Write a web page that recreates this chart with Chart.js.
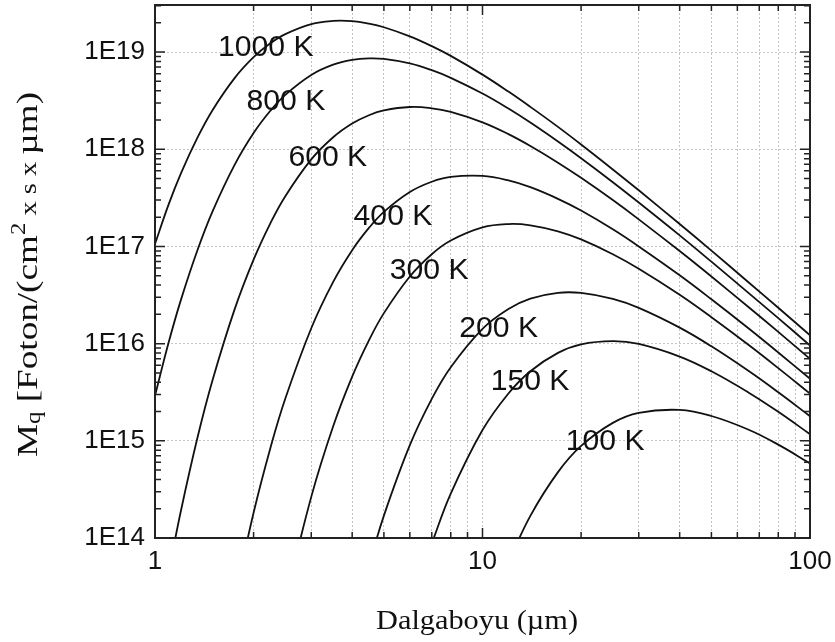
<!DOCTYPE html>
<html lang="tr">
<head>
  <meta charset="UTF-8">
  <title>Foton spektral yayılımı</title>
  <script src="https://cdn.jsdelivr.net/npm/chart.js"></script>
  <style>
    body { margin: 0; background: #fff; }
    .wrap { width: 835px; height: 642px; position: relative; }
  </style>
</head>
<body>
  <div class="wrap"><canvas id="chart"></canvas></div>
  <script>
    // dalga boyu (µm)
    const wavelengths = [1, 1.1, 1.2, 1.35, 1.5, 1.75, 2, 2.25, 2.5, 3, 3.5, 4, 4.5, 5, 6, 7, 8, 10, 12, 14, 17, 20, 25, 30, 40, 50, 65, 80, 100];

    // Mq değerleri, her sıcaklık için
    const mq1000 = [1.06e17, 2.69e17, 5.64e17, 1.33e18, 2.54e18, 5.40e18, 8.86e18, 1.23e19, 1.53e19, 1.94e19, 2.09e19, 2.08e19, 1.96e19, 1.80e19, 1.45e19, 1.15e19, 9.13e18, 5.86e18, 3.92e18, 2.73e18, 1.70e18, 1.12e18, 6.20e17, 3.78e17, 1.70e17, 9.05e16, 4.26e16, 2.34e16, 1.22e16];
    const mq800 = [2.91e15, 1.02e16, 2.82e16, 9.29e16, 2.31e17, 6.91e17, 1.47e18, 2.49e18, 3.63e18, 5.81e18, 7.41e18, 8.30e18, 8.61e18, 8.50e18, 7.64e18, 6.51e18, 5.43e18, 3.74e18, 2.62e18, 1.88e18, 1.20e18, 8.08e17, 4.58e17, 2.83e17, 1.30e17, 6.97e16, 3.31e16, 1.83e16, 9.57e15];
    const mq600 = [null, 4.39e13, 1.91e14, 1.10e15, 4.25e15, 2.25e16, 7.31e16, 1.73e17, 3.29e17, 7.86e17, 1.33e18, 1.84e18, 2.24e18, 2.51e18, 2.72e18, 2.64e18, 2.42e18, 1.89e18, 1.43e18, 1.08e18, 7.28e17, 5.08e17, 3.00e17, 1.90e17, 8.96e16, 4.90e16, 2.37e16, 1.32e16, 6.96e15];
    const mq400 = [null, null, null, null, null, 2.38e13, 1.82e14, 8.39e14, 2.72e15, 1.44e16, 4.32e16, 9.16e16, 1.55e17, 2.27e17, 3.63e17, 4.63e17, 5.19e17, 5.31e17, 4.78e17, 4.07e17, 3.09e17, 2.34e17, 1.50e17, 1.00e17, 5.05e16, 2.86e16, 1.43e16, 8.11e15, 4.35e15];
    const mq300 = [null, null, null, null, null, null, null, null, 2.25e13, 2.65e14, 1.41e15, 4.57e15, 1.08e16, 2.06e16, 4.91e16, 8.32e16, 1.15e17, 1.57e17, 1.70e17, 1.65e17, 1.43e17, 1.18e17, 8.31e16, 5.89e16, 3.18e16, 1.87e16, 9.68e15, 5.60e15, 3.06e15];
    const mq200 = [null, null, null, null, null, null, null, null, null, null, null, null, 5.24e13, 1.70e14, 9.02e14, 2.70e15, 5.72e15, 1.42e16, 2.27e16, 2.90e16, 3.33e16, 3.32e16, 2.88e16, 2.33e16, 1.46e16, 9.38e15, 5.22e15, 3.16e15, 1.79e15];
    const mq150 = [null, null, null, null, null, null, null, null, null, null, null, null, null, null, null, 8.79e13, 2.86e14, 1.29e15, 3.07e15, 5.20e15, 8.03e15, 9.82e15, 1.06e16, 9.92e15, 7.36e15, 5.19e15, 3.13e15, 1.99e15, 1.17e15];
    const mq100 = [null, null, null, null, null, null, null, null, null, null, null, null, null, null, null, null, null, null, 5.64e13, 1.69e14, 4.76e14, 8.86e14, 1.53e15, 1.94e15, 2.08e15, 1.80e15, 1.30e15, 9.13e14, 5.86e14];

    const seriesNames = ['1000 K', '800 K', '600 K', '400 K', '300 K', '200 K', '150 K', '100 K'];
    const seriesValues = [mq1000, mq800, mq600, mq400, mq300, mq200, mq150, mq100];

    // eksen işaretleri
    const xTickValues = [1, 2, 3, 4, 5, 6, 7, 8, 9, 10, 20, 30, 40, 50, 60, 70, 80, 90, 100];
    const xLabelValues = [1, 10, 100];
    const yDecades = [1e14, 1e15, 1e16, 1e17, 1e18, 1e19];

    // eğri etiketlerinin yeri (veri birimlerinde)
    const curveLabels = [
      { text: '1000 K', x: 2.18, y: 1.18e19 },
      { text: '800 K', x: 2.51, y: 3.29e18 },
      { text: '600 K', x: 3.37, y: 8.72e17 },
      { text: '400 K', x: 5.33, y: 2.16e17 },
      { text: '300 K', x: 6.87, y: 6.0e16 },
      { text: '200 K', x: 11.2, y: 1.52e16 },
      { text: '150 K', x: 13.97, y: 4.33e15 },
      { text: '100 K', x: 23.7, y: 1.04e15 }
    ];

    const sansFont = '"Liberation Sans", Arial, sans-serif';
    const serifFont = '"Liberation Serif", "Times New Roman", serif';

    const datasets = seriesNames.map((name, i) => ({
      label: name,
      data: wavelengths.map((w, j) => ({ x: w, y: seriesValues[i][j] })).filter(p => p.y !== null),
      borderColor: '#111',
      borderWidth: 1.8,
      pointRadius: 0,
      fill: false,
      tension: 0.4
    }));

    // yazıyı yatayda esneterek çizer
    function stretchText(ctx, str, cx, baseY, font, scaleX) {
      ctx.save();
      ctx.font = font;
      ctx.translate(cx, baseY);
      ctx.scale(scaleX, 1);
      ctx.textAlign = 'center';
      ctx.textBaseline = 'alphabetic';
      ctx.fillText(str, 0, 0);
      ctx.restore();
    }

    const overlay = {
      id: 'overlay',
      afterDraw(chart) {
        const { ctx, chartArea: a, scales: { x, y } } = chart;
        ctx.save();

        // içe dönük tik çizgileri
        ctx.strokeStyle = '#222';
        ctx.lineWidth = 1.5;
        ctx.beginPath();
        xTickValues.forEach(v => {
          const px = x.getPixelForValue(v);
          const len = xLabelValues.includes(v) ? 10 : 6;
          ctx.moveTo(px, a.bottom); ctx.lineTo(px, a.bottom - len);
          ctx.moveTo(px, a.top); ctx.lineTo(px, a.top + len);
        });
        yDecades.forEach(d => {
          for (let m = 1; m <= 9; m++) {
            const v = m * d;
            if (v > y.max) break;
            const py = y.getPixelForValue(v);
            const len = m === 1 ? 10 : 6;
            ctx.moveTo(a.left, py); ctx.lineTo(a.left + len, py);
            ctx.moveTo(a.right, py); ctx.lineTo(a.right - len, py);
          }
        });
        ctx.stroke();

        // çerçeve
        ctx.lineWidth = 2;
        ctx.strokeRect(a.left, a.top, a.right - a.left, a.bottom - a.top);

        // eğri etiketleri
        ctx.fillStyle = '#111';
        curveLabels.forEach(l => {
          const px = x.getPixelForValue(l.x);
          const py = y.getPixelForValue(l.y);
          stretchText(ctx, l.text, px, py + 11, '29px ' + sansFont, 1.04);
        });

        // x ekseni başlığı
        ctx.font = '28px ' + serifFont;
        const xt = 'Dalgaboyu (µm)';
        stretchText(ctx, xt, 477, 629, '28px ' + serifFont, 202 / ctx.measureText(xt).width);

        // y ekseni başlığı (alt ve üst simgeli)
        const runs = [
          { t: 'M', size: 30, dy: 0 },
          { t: 'q', size: 20, dy: 3 },
          { t: ' [Foton/(cm', size: 30, dy: 0 },
          { t: '2', size: 20, dy: -12 },
          { t: ' x s x ', size: 23, dy: -1 },
          { t: 'µm)', size: 30, dy: 0 }
        ];
        let total = 0;
        runs.forEach(r => { ctx.font = r.size + 'px ' + serifFont; r.w = ctx.measureText(r.t).width; total += r.w; });
        const s = 365 / total;
        ctx.save();
        ctx.translate(37, 457);
        ctx.rotate(-Math.PI / 2);
        ctx.scale(s, 1);
        ctx.textAlign = 'left';
        ctx.textBaseline = 'alphabetic';
        let cx = 0;
        runs.forEach(r => {
          ctx.font = r.size + 'px ' + serifFont;
          ctx.fillText(r.t, cx, r.dy);
          cx += r.w;
        });
        ctx.restore();

        ctx.restore();
      }
    };

    const ctx = document.getElementById('chart').getContext('2d');
    new Chart(ctx, {
      type: 'line',
      data: { datasets },
      options: {
        responsive: true,
        maintainAspectRatio: false,
        devicePixelRatio: 1,
        animation: false,
        layout: { padding: { left: 0, top: 5, right: 25, bottom: 0 } },
        plugins: { legend: { display: false }, tooltip: { enabled: false } },
        scales: {
          x: {
            type: 'logarithmic',
            min: 1,
            max: 100,
            afterBuildTicks: s => { s.ticks = xTickValues.map(v => ({ value: v })); },
            afterFit: s => { s.height = 104; s.paddingLeft = 0; s.paddingRight = 0; },
            ticks: {
              autoSkip: false,
              maxRotation: 0,
              padding: 8,
              color: '#111',
              font: { family: sansFont, size: 26 },
              callback: v => xLabelValues.includes(v) ? String(v) : ''
            },
            grid: { color: '#c4c4c4', lineWidth: 1, drawTicks: false },
            border: { display: false, dash: [2, 2] }
          },
          y: {
            type: 'logarithmic',
            min: 1e14,
            max: 3.05e19,
            afterBuildTicks: s => { s.ticks = yDecades.map(v => ({ value: v })); },
            afterFit: s => { s.width = 155; s.paddingTop = 0; s.paddingBottom = 0; },
            ticks: {
              padding: 10,
              color: '#111',
              font: { family: sansFont, size: 26 },
              callback: v => '1E' + Math.round(Math.log10(v))
            },
            grid: { color: '#c4c4c4', lineWidth: 1, drawTicks: false },
            border: { display: false, dash: [2, 2] }
          }
        }
      },
      plugins: [overlay]
    });
  </script>
</body>
</html>
